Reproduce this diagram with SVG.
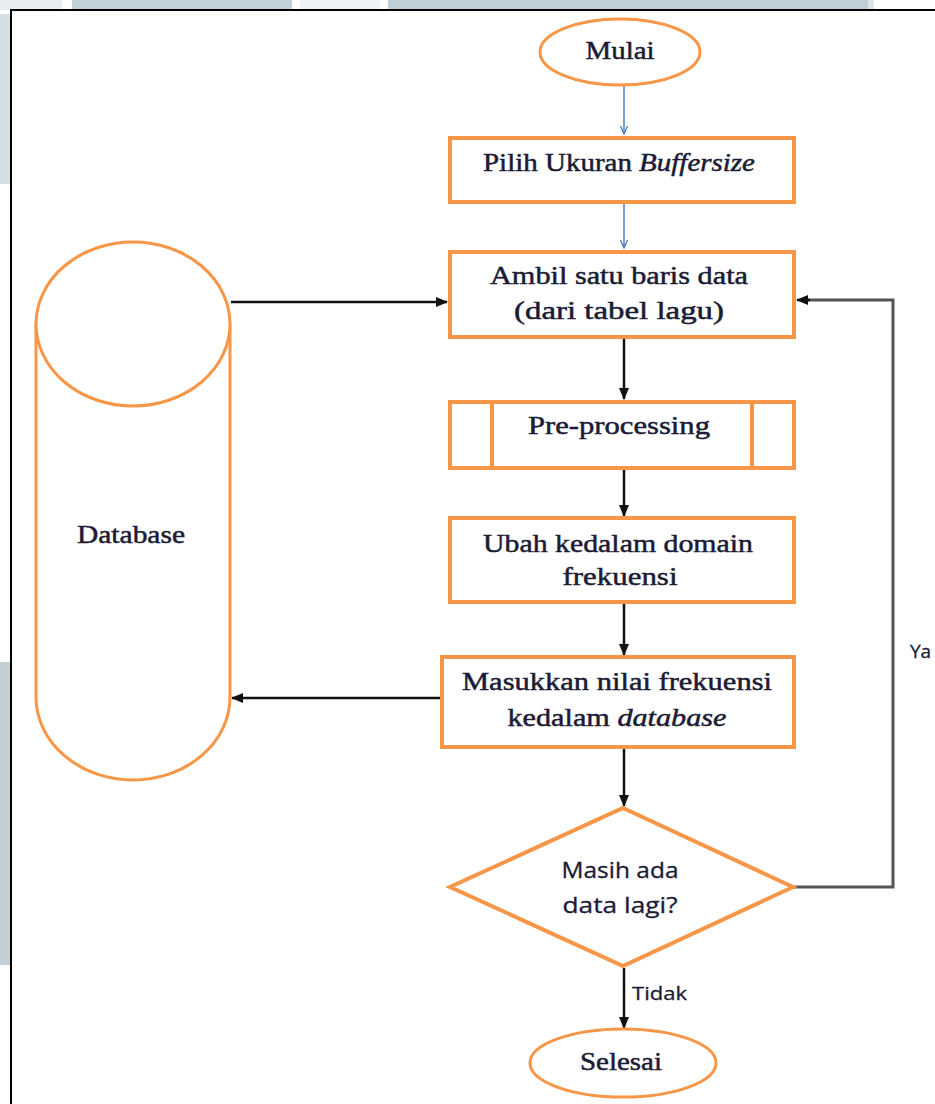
<svg xmlns="http://www.w3.org/2000/svg" width="935" height="1104" viewBox="0 0 935 1104">
  <style>
    .shape { fill: #ffffff; stroke: #F79646; stroke-width: 4; }
    .thin { fill: #ffffff; stroke: #F79646; stroke-width: 3; }
    .serif { font-family: "Liberation Serif", "DejaVu Serif", serif; font-size: 26px; fill: #1b1b35; stroke: #1b1b35; stroke-width: 0.5; text-anchor: middle; }
    .sans { font-family: "Open Sans", "Liberation Sans", sans-serif; fill: #1b1b35; stroke: #1b1b35; stroke-width: 0.3; }
    .flow { stroke: #111111; stroke-width: 2.5; fill: none; }
    .flow-blue { stroke: #4f81bd; stroke-width: 1.5; fill: none; }
    .loop { stroke: #555555; stroke-width: 3; fill: none; }
  </style>
  <defs>
    <marker id="head" viewBox="0 0 12 10" refX="11" refY="5" markerWidth="12" markerHeight="10" markerUnits="userSpaceOnUse" orient="auto">
      <path d="M0,0 L12,5 L0,10 Z" fill="#111111"/>
    </marker>
    <marker id="head-blue" viewBox="0 0 10 10" refX="9" refY="5" markerWidth="9" markerHeight="9" markerUnits="userSpaceOnUse" orient="auto">
      <path d="M0,1 L9,5 L0,9" fill="none" stroke="#4f81bd" stroke-width="1.5"/>
    </marker>
  </defs>

  <!-- page background and frame -->
  <rect x="0" y="0" width="935" height="1104" fill="#ffffff"/>
  <g id="backdrop">
    <rect x="0" y="0" width="62" height="10" fill="#e8eef0"/>
    <rect x="72" y="0" width="220" height="10" fill="#c3d2d8"/>
    <rect x="300" y="0" width="80" height="10" fill="#eef2f4"/>
    <rect x="388" y="0" width="480" height="10" fill="#c0cfd6"/>
    <rect x="868" y="0" width="6" height="10" fill="#dde5e8"/>
    <rect x="0" y="14" width="10" height="170" fill="#d5dfe3"/>
    <rect x="0" y="662" width="10" height="303" fill="#c2d0d6"/>
  </g>
  <path d="M11,1104 L11,10 L935,10" fill="none" stroke="#000000" stroke-width="2"/>

  <!-- connectors -->
  <g id="connectors">
    <line class="flow-blue" x1="624" y1="86" x2="624" y2="134" marker-end="url(#head-blue)"/>
    <line class="flow-blue" x1="624" y1="203" x2="624" y2="248" marker-end="url(#head-blue)"/>
    <line class="flow" x1="624" y1="338" x2="624" y2="399" marker-end="url(#head)"/>
    <line class="flow" x1="624" y1="470" x2="624" y2="516" marker-end="url(#head)"/>
    <line class="flow" x1="624" y1="604" x2="624" y2="655" marker-end="url(#head)"/>
    <line class="flow" x1="624" y1="749" x2="624" y2="806" marker-end="url(#head)"/>
    <line class="flow" x1="624" y1="968" x2="624" y2="1028" marker-end="url(#head)"/>
    <line class="flow" x1="231" y1="302" x2="447" y2="302" marker-end="url(#head)"/>
    <line class="flow" x1="440" y1="698" x2="232" y2="698" marker-end="url(#head)"/>
    <path class="loop" d="M793,887 L893,887 L893,300 L808,300"/>
    <line class="flow" x1="810" y1="300" x2="797" y2="300" marker-end="url(#head)"/>
    <text class="sans" x="632" y="1000" font-size="18" textLength="55" lengthAdjust="spacingAndGlyphs">Tidak</text>
    <text class="sans" x="910" y="658" font-size="19">Ya</text>
  </g>

  <!-- start -->
  <g id="mulai">
    <ellipse class="thin" cx="620" cy="52" rx="80" ry="33"/>
    <text class="serif" x="620" y="59" font-size="27" textLength="69" lengthAdjust="spacingAndGlyphs">Mulai</text>
  </g>

  <g id="pilih-buffersize">
    <rect class="shape" x="450" y="138" width="344" height="64"/>
    <text class="serif" x="619" y="171" textLength="272" lengthAdjust="spacingAndGlyphs">Pilih Ukuran <tspan font-style="italic">Buffersize</tspan></text>
  </g>

  <g id="ambil-data">
    <rect class="shape" x="450" y="252" width="344" height="85"/>
    <text class="serif" x="619" y="284" textLength="258" lengthAdjust="spacingAndGlyphs">Ambil satu baris data</text>
    <text class="serif" x="619" y="319" textLength="210" lengthAdjust="spacingAndGlyphs">(dari tabel lagu)</text>
  </g>

  <g id="pre-processing">
    <rect class="shape" x="450" y="402" width="344" height="66"/>
    <line x1="492" y1="402" x2="492" y2="468" stroke="#F79646" stroke-width="4"/>
    <line x1="752" y1="402" x2="752" y2="468" stroke="#F79646" stroke-width="4"/>
    <text class="serif" x="619" y="434" textLength="182" lengthAdjust="spacingAndGlyphs">Pre-processing</text>
  </g>

  <g id="ubah-domain">
    <rect class="shape" x="450" y="518" width="344" height="84"/>
    <text class="serif" x="618" y="552" textLength="270" lengthAdjust="spacingAndGlyphs">Ubah kedalam domain</text>
    <text class="serif" x="620" y="585" textLength="115" lengthAdjust="spacingAndGlyphs">frekuensi</text>
  </g>

  <g id="masukkan-nilai">
    <rect class="shape" x="442" y="657" width="352" height="90"/>
    <text class="serif" x="617" y="690" textLength="310" lengthAdjust="spacingAndGlyphs">Masukkan nilai frekuensi</text>
    <text class="serif" x="617" y="726" textLength="219" lengthAdjust="spacingAndGlyphs">kedalam <tspan font-style="italic">database</tspan></text>
  </g>

  <g id="masih-ada-data">
    <polygon class="shape" points="623,808 793,887 623,966 450,887"/>
    <text class="sans" x="620" y="878" font-size="22" text-anchor="middle" textLength="117" lengthAdjust="spacingAndGlyphs">Masih ada</text>
    <text class="sans" x="620" y="913" font-size="22" text-anchor="middle" textLength="115" lengthAdjust="spacingAndGlyphs">data lagi?</text>
  </g>

  <g id="selesai">
    <ellipse class="thin" cx="623" cy="1063" rx="93" ry="34"/>
    <text class="serif" x="621" y="1070" textLength="82" lengthAdjust="spacingAndGlyphs">Selesai</text>
  </g>

  <!-- cylinder store -->
  <g id="database">
    <path class="thin" d="M36,324 L36,697 A97,83 0 0 0 230,697 L230,324"/>
    <ellipse class="thin" cx="133" cy="324" rx="97" ry="82"/>
    <text class="serif" x="131" y="543" textLength="108" lengthAdjust="spacingAndGlyphs">Database</text>
  </g>
</svg>
